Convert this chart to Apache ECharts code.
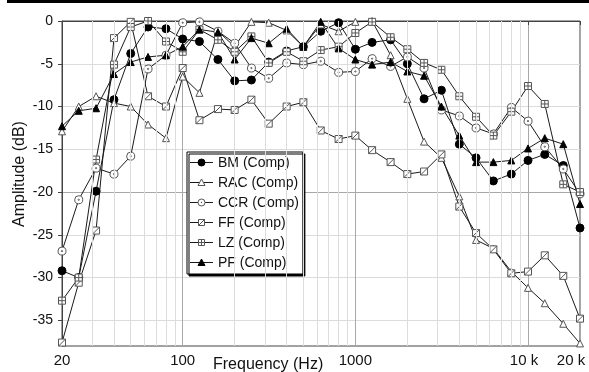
<!DOCTYPE html>
<html>
<head>
<meta charset="utf-8">
<script src="https://cdn.jsdelivr.net/npm/echarts@6/dist/echarts.min.js"></script>
<style>html,body{margin:0;padding:0;background:#fff}#c{width:589px;height:372px}</style>
</head>
<body>
<div id="c"></div>
<script>
const freqs = [20,25,31.5,40,50,63,80,100,125,160,200,250,315,400,500,630,800,1000,1250,1600,2000,2500,3150,4000,5000,6300,8000,10000,12500,16000,20000];
const BM  = [-29.2,-30.0,-19.9,-9.2,-3.8,-0.7,-0.9,-2.1,-2.4,-4.5,-7.0,-6.9,-4.8,-3.5,-3.0,-1.2,-0.2,-3.3,-2.5,-2.2,-5.0,-9.1,-8.1,-14.4,-16.0,-18.7,-17.9,-16.3,-15.6,-16.9,-24.2];
const RAC = [-12.9,-10.0,-8.8,-9.6,-10.0,-12.1,-13.7,-6.5,-8.4,-1.2,-3.0,-0.1,-0.2,-1.1,-3.0,-0.4,-1.2,-0.1,0,-4.0,-9.1,-14.1,-16.0,-20.5,-25.6,-26.6,-29.3,-31.2,-33.0,-35.4,-37.7];
const CCR = [-26.9,-20.9,-17.2,-17.9,-15.8,-5.6,-4.0,-0.2,-0.1,-1.2,-2.6,-5.5,-6.7,-4.9,-5.1,-4.7,-6.0,-5.9,-4.4,-5.3,-4.2,-5.5,-10.4,-11.1,-12.5,-13.2,-10.1,-11.7,-14.7,-17.3,-20.2];
const FF  = [-37.6,-30.6,-24.5,-2.0,-0.1,-8.8,-10.0,-5.5,-11.6,-10.3,-10.4,-9.2,-12.0,-10.0,-9.5,-12.8,-13.8,-13.4,-15.1,-16.5,-17.9,-17.6,-15.6,-21.7,-24.8,-26.7,-29.5,-29.3,-27.4,-29.8,-34.8];
const LZ  = [-32.7,-30.0,-16.2,-5.1,-0.7,0,-2.4,-3.6,-1.0,-2.2,-3.6,-1.8,-4.9,-3.6,-4.7,-3.4,-3.0,-1.4,-0.1,-1.9,-3.3,-4.9,-5.7,-8.8,-11.2,-13.4,-10.6,-7.6,-9.7,-19.1,-20.0];
const PF  = [-12.3,-10.5,-10.2,-6.2,-4.8,-4.2,-4.0,-3.0,-1.0,-1.3,-4.5,-2.0,-2.6,-0.9,-3.0,-0.1,-3.2,-4.5,-5.1,-4.8,-5.9,-6.4,-10.0,-13.4,-16.5,-16.5,-16.3,-14.9,-13.7,-14.4,-21.4];
const minorFreqs = [30,40,50,60,70,80,90,200,300,400,500,600,700,800,900,2000,3000,4000,5000,6000,7000,8000,9000];
const yTickValues = [-35,-30,-25,-20,-15,-10,-5,0];
const xTickLabels = {20:'20',100:'100',1000:'1000',10000:'{a|10 k}',20000:'{b|20 k}'};
const legendNames = ['BM (Comp)', 'RAC (Comp)', 'CCR (Comp)', 'FF (Comp)', 'LZ (Comp)', 'PF (Comp)'];
const legendMarkers = ['dot', 'tri', 'ring', 'sqslash', 'sqcross', 'trifill'];

const FONT = '"Liberation Sans", Arial, Helvetica, sans-serif';
const SQ_SLASH = 'path://M0,0L10,0L10,10L0,10ZM0,10L10,0';
const SQ_CROSS = 'path://M0,0L10,0L10,10L0,10ZM5,0L5,10M0,5L10,5';
const CIRC_DOT = 'path://M5,0A5,5,0,1,1,4.99,0ZM5,4.2A0.8,0.8,0,1,1,4.99,4.2Z';

function mk(name, vals, symbol, size, filled) {
  return {
    name, type: 'line', z: 3,
    data: freqs.map((f, i) => [f, vals[i]]),
    symbol, symbolSize: size, showSymbol: true,
    lineStyle: {color: '#1a1a1a', width: 1},
    itemStyle: filled ? {color: '#000', borderColor: '#000', borderWidth: 1}
                      : {color: '#fff', borderColor: '#555', borderWidth: 1},
    animation: false
  };
}

// legend icon graphics (line + marker) placed over the legend rows
function legendIcon(kind, cy) {
  const cx = 201.5, els = [];
  els.push({type: 'line', z: 100, silent: true, shape: {x1: 190, y1: cy, x2: 213, y2: cy}, style: {stroke: '#1a1a1a', lineWidth: 1}});
  const open = {fill: '#fff', stroke: '#555', lineWidth: 1};
  const solid = {fill: '#000', stroke: '#000', lineWidth: 1};
  if (kind === 'dot') els.push({type: 'circle', z: 101, silent: true, shape: {cx, cy, r: 3.5}, style: solid});
  if (kind === 'ring') {
    els.push({type: 'circle', z: 101, silent: true, shape: {cx, cy, r: 3.5}, style: open});
    els.push({type: 'circle', z: 102, silent: true, shape: {cx, cy, r: 0.7}, style: {fill: '#555'}});
  }
  if (kind === 'tri' || kind === 'trifill')
    els.push({type: 'polygon', z: 101, silent: true, shape: {points: [[cx, cy - 3.5], [cx + 3.5, cy + 3], [cx - 3.5, cy + 3]]}, style: kind === 'tri' ? open : solid});
  if (kind === 'sqslash' || kind === 'sqcross') {
    els.push({type: 'rect', z: 101, silent: true, shape: {x: cx - 3, y: cy - 3, width: 6, height: 6}, style: open});
    if (kind === 'sqslash') els.push({type: 'line', z: 102, silent: true, shape: {x1: cx - 3, y1: cy + 3, x2: cx + 3, y2: cy - 3}, style: {stroke: '#555', lineWidth: 1}});
    else {
      els.push({type: 'line', z: 102, silent: true, shape: {x1: cx, y1: cy - 3, x2: cx, y2: cy + 3}, style: {stroke: '#555', lineWidth: 1}});
      els.push({type: 'line', z: 102, silent: true, shape: {x1: cx - 3, y1: cy, x2: cx + 3, y2: cy}, style: {stroke: '#555', lineWidth: 1}});
    }
  }
  return els;
}
const legendIcons = [].concat(...legendMarkers.map((k, i) => legendIcon(k, 162.5 + 20 * i)));

const chart = echarts.init(document.getElementById('c'), null, {renderer: 'canvas'});
chart.setOption({
  animation: false,
  backgroundColor: '#fff',
  textStyle: {fontFamily: FONT},
  grid: {left: 62, right: 9, top: 21, bottom: 26, show: true, borderColor: '#444', borderWidth: 1},
  xAxis: {
    type: 'log', logBase: 10, min: 20, max: 20000,
    axisLine: {show: true, lineStyle: {color: '#444'}},
    axisTick: {show: true, inside: false, length: 4, lineStyle: {color: '#444'}},
    splitLine: {show: true, lineStyle: {color: '#a8a8a8', width: 1}},
    axisLabel: {
      fontSize: 15, color: '#111', margin: 7, fontFamily: FONT,
      formatter: v => xTickLabels[Math.round(v)] || '',
      rich: {a: {fontSize: 15, fontFamily: FONT, color: '#111', padding: [0, 8, 0, 0]},
             b: {fontSize: 15, fontFamily: FONT, color: '#111', padding: [0, 18, 0, 0]}}
    }
  },
  yAxis: {
    type: 'value', min: -38, max: 0, interval: 1,
    axisLine: {show: true, lineStyle: {color: '#444'}},
    axisTick: {show: true, length: 4, lineStyle: {color: '#444'}, customValues: yTickValues},
    splitLine: {show: true, lineStyle: {color: ['#dcdcdc', '#dcdcdc', '#dcdcdc', '#a8a8a8', '#dcdcdc'], width: 1}},
    axisLabel: {
      fontSize: 14, color: '#111', margin: 9, fontFamily: FONT,
      formatter: v => (Math.round(v) % 5 === 0 ? String(Math.round(v)) : '')
    }
  },
  legend: {
    orient: 'vertical', left: 187, top: 152,
    padding: [4, 4, 4, 3], itemGap: 6, itemWidth: 23, itemHeight: 7,
    backgroundColor: '#fff', borderColor: '#000', borderWidth: 1,
    shadowColor: '#000', shadowOffsetX: 2, shadowOffsetY: 2, shadowBlur: 0,
    itemStyle: {opacity: 0}, lineStyle: {opacity: 0},
    textStyle: {fontSize: 14, color: '#111', fontFamily: FONT, lineHeight: 14},
    data: legendNames.map(n => ({name: n, icon: 'none'}))
  },
  graphic: [
    {type: 'rect', shape: {x: 7, y: 0, width: 582, height: 3}, style: {fill: '#000'}, silent: true},
    {type: 'text', x: 20, y: 174, rotation: Math.PI / 2,
     style: {text: 'Amplitude (dB)', fontSize: 16, fontFamily: FONT, fill: '#111', align: 'center', verticalAlign: 'middle'}},
    {type: 'text', x: 213, y: 357,
     style: {text: 'Frequency (Hz)', fontSize: 16, fontFamily: FONT, fill: '#111', align: 'left', verticalAlign: 'top'}}
  ].concat(legendIcons),
  series: [
    {type: 'line', data: [], z: 1, silent: true, animation: false,
     markLine: {silent: true, symbol: 'none', label: {show: false}, animation: false,
       lineStyle: {color: '#dcdcdc', width: 1, type: 'solid'},
       data: minorFreqs.map(f => ({xAxis: f}))}},
    mk(legendNames[0], BM, 'circle', 8, true),
    mk(legendNames[1], RAC, 'triangle', 7, false),
    mk(legendNames[2], CCR, CIRC_DOT, 8, false),
    mk(legendNames[3], FF, SQ_SLASH, 7, false),
    mk(legendNames[4], LZ, SQ_CROSS, 7, false),
    mk(legendNames[5], PF, 'triangle', 7, true)
  ]
});
</script>
</body>
</html>
